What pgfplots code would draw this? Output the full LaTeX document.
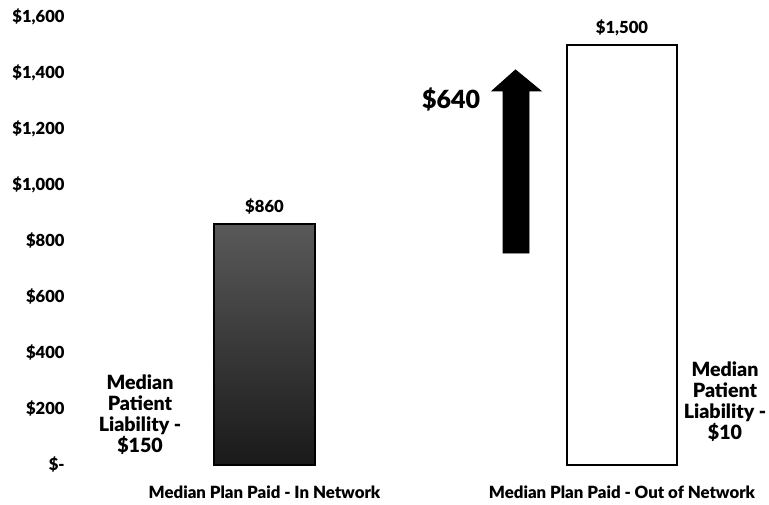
\documentclass[border=0pt]{standalone}
\usepackage{fontspec}
\setmainfont{Lato}[BoldFont={Lato Black}]
\usepackage{pgfplots}
\pgfplotsset{compat=1.18}
\begin{document}
\begin{tikzpicture}
\useasboundingbox (-35pt,-12.5pt) rectangle (349.5pt,239.5pt);
\begin{axis}[
  at={(0,0)}, anchor=south west,
  scale only axis,
  width=349.5pt, height=239.5pt,
  xmin=70, xmax=769,
  ymin=-50, ymax=1660.7,
  axis line style={draw=none},
  major tick length=0pt,
  ytick={0,200,400,600,800,1000,1200,1400,1600},
  yticklabels={{\$-\hspace{7pt}},{\$200},{\$400},{\$600},{\$800},{\$1,000},{\$1,200},{\$1,400},{\$1,600}},
  yticklabel style={anchor=east, inner sep=0pt, xshift=-2.5pt,
    font=\fontsize{8.3}{10}\selectfont\bfseries},
  xtick={264.5,622},
  xticklabels={Median Plan Paid - In Network, Median Plan Paid - Out of Network},
  xticklabel style={anchor=north, inner sep=0pt, yshift=-3pt,
    font=\fontsize{8.4}{10}\selectfont\bfseries},
  clip=false,
]
% in network bar
\addplot[ybar, bar width=50.5pt, bar shift=0pt, draw=black, line width=1pt,
  top color=black!65, bottom color=black!90,
  nodes near coords, point meta=explicit symbolic,
  every node near coord/.style={anchor=south, yshift=1pt, text=black,
    font=\fontsize{8.3}{10}\selectfont\bfseries}]
  coordinates {(264.5,860) [\$860]};
% out of network bar
\addplot[ybar, bar width=55pt, bar shift=0pt, draw=black, line width=0.8pt, fill=white,
  nodes near coords, point meta=explicit symbolic,
  every node near coord/.style={anchor=south, yshift=1pt, text=black,
    font=\fontsize{8.3}{10}\selectfont\bfseries}]
  coordinates {(622,1500) [\$1,500]};
% difference arrow
\addplot[draw=black, fill=black, mark=none] coordinates {
  (503,757) (503,1336) (492,1336) (515.5,1411) (541,1336) (529,1336) (529,757)
} -- cycle;
\node[font=\fontsize{12.5}{14}\selectfont\bfseries] at (axis cs:451,1304) {\$640};
\node[align=center, font=\fontsize{9.8}{10.5}\selectfont\bfseries] at (axis cs:140,179)
  {Median\\Patient\\Liability -\\\$150};
\node[align=center, font=\fontsize{9.8}{10.5}\selectfont\bfseries] at (axis cs:725,225)
  {Median\\Patient\\Liability -\\\$10};
\end{axis}
\end{tikzpicture}
\end{document}
